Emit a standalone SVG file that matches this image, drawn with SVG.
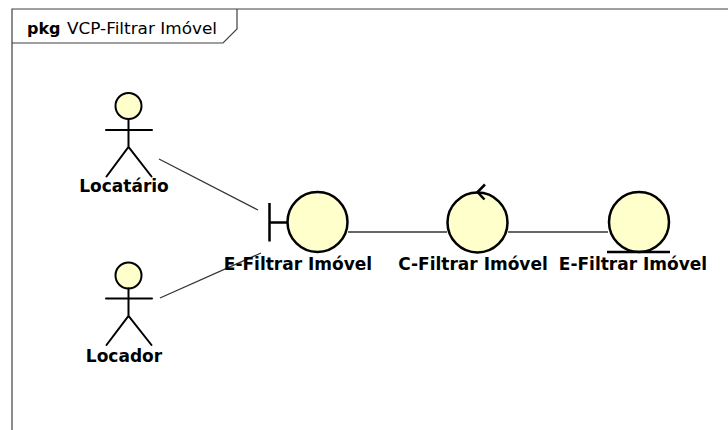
<svg xmlns="http://www.w3.org/2000/svg" width="728" height="430" viewBox="0 0 728 430">
  <style>
    .frame { fill: none; stroke: #404040; stroke-width: 1.2; }
    .stick { fill: none; stroke: #000; stroke-width: 2; stroke-linecap: round; }
    .head { fill: #ffffcc; stroke: #000; stroke-width: 2; }
    .ball { fill: #ffffcc; stroke: #000; stroke-width: 2.5; }
    .bar { fill: none; stroke: #000; stroke-width: 2.5; }
    .link { fill: none; stroke: #333; stroke-width: 1.3; }
    .label { font-family: "DejaVu Sans", sans-serif; font-size: 17px; font-weight: bold; fill: #000; text-anchor: middle; }
    .title { font-family: "DejaVu Sans", sans-serif; font-size: 16px; fill: #000; }
  </style>

  <rect width="728" height="430" fill="#fff"/>

  <!-- package frame -->
  <g id="package">
    <path class="frame" d="M12,440 L12,9 L740,9"/>
    <path class="frame" d="M12,43 L223,43 L237,29 L237,9"/>
    <text class="title" x="27" y="34"><tspan font-weight="bold">pkg</tspan><tspan x="67" textLength="150" lengthAdjust="spacingAndGlyphs">VCP-Filtrar Imóvel</tspan></text>
  </g>

  <!-- associations -->
  <g id="connectors">
    <line class="link" x1="159" y1="159" x2="258" y2="210"/>
    <line class="link" x1="160" y1="298" x2="261" y2="253"/>
    <line class="link" x1="348" y1="232" x2="447" y2="232"/>
    <line class="link" x1="508" y1="232" x2="608" y2="232"/>
  </g>

  <g id="locatario">
    <circle class="head" cx="128.5" cy="106" r="13"/>
    <path class="stick" d="M128.5,119 V147 M106,130 H152 M106.5,176.5 L128.5,147 L151.5,176.5"/>
    <text class="label" x="124" y="192">Locatário</text>
  </g>

  <g id="locador">
    <circle class="head" cx="128.5" cy="275.5" r="13"/>
    <path class="stick" d="M128.5,288.5 V316 M106,298.5 H152 M106.5,345 L128.5,316 L151.5,345"/>
    <text class="label" x="124" y="362">Locador</text>
  </g>

  <g id="boundary">
    <path class="bar" d="M269.5,203 V241.5 M269.5,222.5 H287"/>
    <circle class="ball" cx="317.5" cy="222" r="30"/>
    <text class="label" x="298" y="270">E-Filtrar Imóvel</text>
  </g>

  <g id="control">
    <circle class="ball" cx="477.5" cy="222.5" r="30"/>
    <path class="bar" d="M485,184.5 L477.5,192 L484.5,199.5" stroke-width="2"/>
    <text class="label" x="473" y="270">C-Filtrar Imóvel</text>
  </g>

  <g id="entity">
    <circle class="ball" cx="639" cy="222" r="30"/>
    <line class="bar" x1="607" y1="252" x2="670" y2="252"/>
    <text class="label" x="633" y="270">E-Filtrar Imóvel</text>
  </g>
</svg>
